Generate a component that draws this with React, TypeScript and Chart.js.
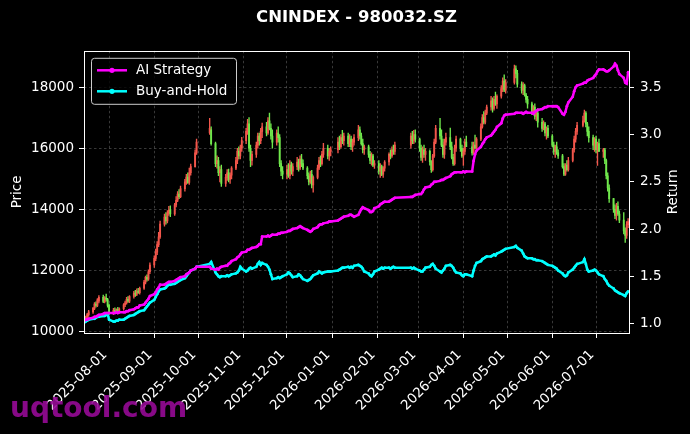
import { useEffect, useRef } from "react";
import { Chart, registerables } from "chart.js";

Chart.register(...registerables);

// ---------- data ----------
const TITLE = "CNINDEX - 980032.SZ";
const FIRST_DAY = "2025-07-15";
const LAST_DAY = "2026-07-23";
const HOLIDAYS = [
  "2025-10-01", "2025-10-02", "2025-10-03", "2025-10-06", "2025-10-07", "2025-10-08",
  "2026-01-01", "2026-01-02",
  "2026-02-16", "2026-02-17", "2026-02-18", "2026-02-19", "2026-02-20", "2026-02-23",
  "2026-04-06", "2026-05-01", "2026-05-04", "2026-05-05", "2026-06-19",
];
const TICK_LABELS = [
  "2025-08-01", "2025-09-01", "2025-10-01", "2025-11-01", "2025-12-01", "2026-01-01",
  "2026-02-01", "2026-03-01", "2026-04-01", "2026-05-01", "2026-06-01", "2026-07-01",
];
const PRICE_TICKS = [10000, 12000, 14000, 16000, 18000];
const RETURN_TICKS = [1.0, 1.5, 2.0, 2.5, 3.0, 3.5];

const OPENS = [
  10300, 10380, 10470, 10560,
  10650, 10760, 10900, 10860, 11000,
  11120, 10980, 11100, 11050,
  10860,
  10620, 10700, 10640, 10720, 10660,
  10750, 10880, 10940, 11060, 11000,
  11150, 11260, 11220, 11330, 11280,
  11420, 11620, 11780, 11720, 11960,
  12180, 12400, 12600, 12850, 13100,
  13520, 13750, 13620, 13880, 13980,
  13850, 14150, 14300, 14500, 14420,
  14680, 14900, 15060, 14880, 15200,
  15400, 15850,
  16500, 16600,
  16150, 15500, 15600, 15200, 15300,
  14850, 15050, 15200, 14980, 15120,
  15350, 15600, 15900, 15750, 16000,
  16250, 16550, 16800, 16000, 15600,
  15800, 16100, 16400, 16250, 16550,
  16700, 16500, 16900, 16650, 16400,
  16200, 16500, 16350, 15500, 15250,
  15150, 15300, 15100, 15450, 15250,
  15400, 15550, 15350, 15650, 15500,
  15350, 15100, 14900, 15150, 14800,
  15050, 15350, 15600, 15500, 15800,
  16000, 15750, 15900,
  15950, 16200, 16050, 16350, 16250,
  16400, 16150, 16300, 16050, 16200,
  16350, 16600, 16400, 16150, 15950,
  16050, 15800, 15600, 15750, 15450,
  15500, 15250, 15400, 15150, 15350,
  15550, 15800, 15750, 15950, 15900,
  16100, 16400, 16250, 16450,
  16300, 16000, 15700, 15950, 15800,
  15900, 15550, 15300, 15750, 16200,
  16650, 16400, 16100, 15800, 16200,
  16350, 16050, 15700, 15500, 16000,
  16300, 16000, 15750, 15900, 16200,
  16050, 15850, 16100, 16000,
  16300, 16700, 17000, 16850, 17150,
  17350, 17550, 17300, 17600, 17450,
  17700, 17950, 18200, 17900,
  18150, 18600, 18450,
  18100, 17900, 18050, 17750, 17600,
  17450, 17200, 17350, 17050, 17150,
  16850, 16650, 16800, 16500, 16650,
  16400, 16100, 15900, 16050, 15850,
  15750, 15400, 15150, 15450, 15300,
  15600, 15950, 16300, 16550,
  16750, 16900, 17150, 16800, 16550,
  16350, 16100, 16300, 15950, 16150,
  15900, 15950, 15600, 15100, 14700,
  14350, 14000, 13800, 14100, 13850,
  13650, 13300, 13150, 13500,
];

const HIGHS = [
  10420, 10510, 10600, 10700,
  10800, 10950, 10980, 11080, 11180,
  11200, 11150, 11230, 11090,
  10900,
  10760, 10780, 10750, 10800, 10780,
  10920, 11000, 11120, 11150, 11180,
  11320, 11350, 11400, 11420, 11460,
  11680, 11820, 11860, 12020, 12250,
  12480, 12700, 12950, 13250, 13620,
  13850, 13900, 13960, 14100, 14120,
  14200, 14420, 14580, 14650, 14760,
  14980, 15150, 15200, 15350, 15480,
  15950, 16300,
  16980, 16700,
  16200, 15750, 15700, 15400, 15450,
  15150, 15300, 15320, 15200, 15400,
  15700, 16000, 16050, 16100, 16360,
  16650, 16950, 17000, 16100, 15900,
  16200, 16500, 16500, 16650, 16820,
  16850, 17000, 17150, 16800, 16600,
  16600, 16700, 16450, 15600, 15400,
  15450, 15500, 15600, 15550, 15500,
  15700, 15650, 15750, 15800, 15620,
  15400, 15200, 15250, 15280, 15100,
  15450, 15700, 15750, 15900, 16160,
  16100, 16000, 16050,
  16350, 16400, 16450, 16590, 16500,
  16500, 16450, 16400, 16300, 16450,
  16750, 16700, 16500, 16300, 16100,
  16100, 15900, 15850, 15800, 15600,
  15600, 15500, 15450, 15400, 15600,
  15850, 15950, 16050, 16100, 16200,
  16500, 16550, 16590, 16600,
  16330, 16100, 16050, 16100, 16000,
  15950, 15600, 15800, 16300, 16750,
  16980, 16600, 16300, 16300, 16500,
  16660, 16200, 15800, 16100, 16400,
  16330, 16100, 16000, 16300, 16400,
  16200, 16200, 16430, 16350,
  16800, 17100, 17200, 17250, 17410,
  17700, 17650, 17700, 17840, 17750,
  18050, 18300, 18400, 18250,
  18720, 18700, 18550,
  18170, 18150, 18100, 17800, 17700,
  17510, 17400, 17450, 17200, 17300,
  16980, 16900, 16850, 16700, 16750,
  16450, 16200, 16100, 16200, 15950,
  15800, 15500, 15500, 15600, 15700,
  16000, 16400, 16650, 16850,
  17050, 17250, 17200, 16850, 16700,
  16430, 16350, 16400, 16200, 16300,
  16000, 16000, 15650, 15200, 14800,
  14360, 14150, 14200, 14250, 13950,
  13900, 13400, 13600, 13700,
];

const LOWS = [
  10260, 10340, 10420, 10500,
  10600, 10720, 10800, 10820, 10940,
  10950, 10940, 11000, 10800,
  10560,
  10560, 10600, 10590, 10640, 10600,
  10700, 10820, 10900, 10960, 10950,
  11100, 11150, 11180, 11250, 11230,
  11380, 11560, 11650, 11680, 11900,
  12100, 12320, 12520, 12780, 13050,
  13450, 13520, 13560, 13800, 13760,
  13800, 14080, 14250, 14350, 14380,
  14600, 14820, 14850, 14820, 15120,
  15380, 15800,
  16450, 16100,
  15400, 15350, 15100, 14900, 14750,
  14750, 14950, 14900, 14850, 15000,
  15300, 15500, 15650, 15650, 15900,
  16150, 16450, 15900, 15400, 15450,
  15700, 16000, 16100, 16150, 16350,
  16400, 16450, 16600, 16300, 16000,
  16100, 16200, 15400, 15100, 15000,
  15000, 15050, 15000, 15150, 15100,
  15300, 15250, 15300, 15400, 15300,
  15000, 14800, 14850, 14700, 14560,
  15000, 15300, 15400, 15450, 15700,
  15650, 15600, 15750,
  15850, 15950, 16000, 16150, 16100,
  16050, 16050, 15950, 15900, 16100,
  16250, 16300, 16100, 15850, 15800,
  15700, 15500, 15450, 15400, 15340,
  15150, 15050, 15100, 15050, 15250,
  15450, 15650, 15700, 15800, 15800,
  16000, 16150, 16150, 16200,
  15900, 15600, 15540, 15700, 15600,
  15450, 15210, 15250, 15700, 16150,
  16300, 16050, 15700, 15670, 16100,
  15950, 15650, 15440, 15450, 15900,
  15900, 15700, 15440, 15800, 16100,
  15770, 15800, 16000, 15900,
  16250, 16660, 16800, 16800, 17100,
  17250, 17180, 17250, 17400, 17300,
  17640, 17850, 17850, 17800,
  18100, 18300, 18000,
  17800, 17750, 17700, 17500, 17310,
  17100, 17150, 16950, 16900, 16690,
  16550, 16600, 16400, 16300, 16350,
  16050, 15800, 15700, 15800, 15670,
  15350, 15100, 15110, 15250, 15250,
  15550, 15870, 16200, 16450,
  16700, 16850, 16700, 16400, 16200,
  15950, 15900, 15850, 15440, 15900,
  15700, 15500, 15000, 14600, 14230,
  13900, 13700, 13650, 13800, 13570,
  13200, 12920, 13050, 13400,
];

const CLOSES = [
  10380, 10470, 10560, 10650,
  10760, 10900, 10860, 11040, 11120,
  10990, 11110, 11060, 10860,
  10620,
  10700, 10640, 10720, 10660, 10750,
  10880, 10940, 11060, 11000, 11150,
  11260, 11220, 11330, 11280, 11420,
  11620, 11780, 11720, 11960, 12180,
  12400, 12600, 12850, 13100, 13520,
  13750, 13620, 13880, 13980, 13850,
  14150, 14300, 14500, 14420, 14680,
  14900, 15060, 14880, 15200, 15400,
  15850, 16200,
  16650, 16150,
  15500, 15600, 15200, 15300, 14850,
  15050, 15200, 14980, 15120, 15350,
  15600, 15900, 15750, 16000, 16250,
  16550, 16800, 16000, 15600, 15800,
  16100, 16400, 16250, 16550, 16700,
  16500, 16900, 16650, 16400, 16200,
  16500, 16350, 15500, 15250, 15150,
  15300, 15100, 15450, 15250, 15400,
  15550, 15350, 15650, 15500, 15350,
  15100, 14900, 15150, 14800, 15050,
  15350, 15600, 15500, 15800, 16000,
  15750, 15900, 15950,
  16200, 16050, 16350, 16250, 16400,
  16150, 16300, 16050, 16200, 16350,
  16600, 16400, 16150, 15950, 16050,
  15800, 15600, 15750, 15450, 15500,
  15250, 15400, 15150, 15350, 15550,
  15800, 15750, 15950, 15900, 16100,
  16400, 16250, 16450, 16300,
  16000, 15700, 15950, 15800, 15900,
  15550, 15300, 15750, 16200, 16650,
  16400, 16100, 15800, 16200, 16350,
  16050, 15700, 15500, 16000, 16300,
  16000, 15750, 15900, 16200, 16050,
  15850, 16100, 16000, 16300,
  16700, 17000, 16850, 17150, 17350,
  17550, 17300, 17600, 17450, 17700,
  17950, 18200, 17900, 18150,
  18600, 18450, 18100,
  17900, 18050, 17750, 17600, 17450,
  17200, 17350, 17050, 17150, 16850,
  16650, 16800, 16500, 16650, 16400,
  16100, 15900, 16050, 15850, 15750,
  15400, 15150, 15450, 15300, 15600,
  15950, 16300, 16550, 16750,
  16900, 17150, 16800, 16550, 16350,
  16100, 16300, 15950, 16150, 15900,
  15950, 15600, 15100, 14700, 14350,
  14000, 13800, 14100, 13850, 13650,
  13300, 13150, 13500, 13600,
];

const AI_STRATEGY = [
  1.03, 1.04, 1.04, 1.05,
  1.06, 1.07, 1.07, 1.08, 1.09,
  1.10, 1.11, 1.11, 1.11,
  1.11,
  1.11, 1.11, 1.12, 1.11, 1.12,
  1.12, 1.12, 1.13, 1.13, 1.14,
  1.15, 1.16, 1.17, 1.17, 1.19,
  1.20, 1.22, 1.24, 1.26, 1.29,
  1.31, 1.33, 1.36, 1.38, 1.41,
  1.41, 1.42, 1.43, 1.44, 1.44,
  1.45, 1.46, 1.47, 1.48, 1.49,
  1.50, 1.52, 1.53, 1.54, 1.56,
  1.58, 1.60,
  1.60, 1.58,
  1.57, 1.58, 1.57, 1.59, 1.60,
  1.61, 1.61, 1.63, 1.64, 1.66,
  1.68, 1.70, 1.71, 1.73, 1.75,
  1.76, 1.78, 1.78, 1.79, 1.80,
  1.81, 1.82, 1.84, 1.84, 1.92,
  1.92, 1.93, 1.92, 1.93, 1.94,
  1.94, 1.95, 1.95, 1.96, 1.96,
  1.97, 1.98, 1.98, 1.99, 2.00,
  2.01, 2.02, 2.03, 2.02, 2.01,
  1.99, 1.98, 1.97, 1.98, 2.00,
  2.02, 2.04, 2.05, 2.05, 2.06,
  2.07, 2.08, 2.08,
  2.09, 2.10, 2.11, 2.12, 2.13,
  2.14, 2.15, 2.15, 2.14, 2.13,
  2.15, 2.18, 2.21, 2.23, 2.22,
  2.20, 2.18, 2.18, 2.19, 2.22,
  2.24, 2.26, 2.27, 2.28, 2.29,
  2.29, 2.30, 2.31, 2.32, 2.33,
  2.34, 2.34, 2.35, 2.36,
  2.37, 2.37, 2.39, 2.42, 2.44,
  2.45, 2.47, 2.48, 2.50, 2.50,
  2.51, 2.52, 2.52, 2.53, 2.54,
  2.56, 2.58, 2.59, 2.60, 2.60,
  2.60, 2.60, 2.61, 2.60, 2.61,
  2.61, 2.72, 2.79, 2.83,
  2.87, 2.90, 2.92, 2.95, 2.97,
  2.99, 3.01, 3.03, 3.05, 3.08,
  3.12, 3.17, 3.20, 3.21,
  3.22, 3.23, 3.23,
  3.23, 3.22, 3.23, 3.24, 3.23,
  3.23, 3.22, 3.24, 3.25, 3.26,
  3.27, 3.28, 3.29, 3.29, 3.30,
  3.30, 3.30, 3.30, 3.30, 3.29,
  3.22, 3.21, 3.24, 3.30, 3.34,
  3.40, 3.46, 3.50, 3.52,
  3.54, 3.55, 3.55, 3.57, 3.58,
  3.60, 3.62, 3.64, 3.67, 3.69,
  3.69, 3.68, 3.67, 3.67, 3.68,
  3.72, 3.75, 3.73, 3.68, 3.64,
  3.60, 3.55, 3.54, 3.66,
];

const BUY_AND_HOLD = [
  1.01, 1.02, 1.03, 1.04,
  1.05, 1.05, 1.06, 1.07, 1.07,
  1.08, 1.08, 1.09, 1.10,
  1.04,
  1.02, 1.02, 1.03, 1.03, 1.04,
  1.04, 1.05, 1.06, 1.07, 1.08,
  1.09, 1.10, 1.11, 1.12, 1.13,
  1.14, 1.16, 1.18, 1.20, 1.22,
  1.25, 1.28, 1.31, 1.34, 1.36,
  1.37, 1.38, 1.40, 1.41, 1.41,
  1.42, 1.43, 1.44, 1.45, 1.46,
  1.48, 1.50, 1.52, 1.54, 1.56,
  1.58, 1.60,
  1.63, 1.65,
  1.54, 1.52, 1.50, 1.49, 1.50,
  1.50, 1.51, 1.50, 1.51, 1.52,
  1.53, 1.54, 1.56, 1.60, 1.58,
  1.55, 1.56, 1.58, 1.59, 1.58,
  1.60, 1.63, 1.65, 1.62, 1.64,
  1.62, 1.60, 1.57, 1.52, 1.47,
  1.48, 1.49, 1.48, 1.49, 1.50,
  1.52, 1.54, 1.53, 1.51, 1.49,
  1.50, 1.52, 1.51, 1.49, 1.47,
  1.45, 1.46, 1.47, 1.49, 1.51,
  1.53, 1.55, 1.54, 1.53, 1.54,
  1.55, 1.55, 1.55,
  1.56, 1.57, 1.58, 1.59, 1.59,
  1.60, 1.59, 1.60, 1.59, 1.61,
  1.62, 1.61, 1.60, 1.58, 1.55,
  1.53, 1.51, 1.50, 1.52, 1.55,
  1.57, 1.58, 1.59, 1.58, 1.59,
  1.59, 1.58, 1.59, 1.60, 1.59,
  1.59, 1.58, 1.59, 1.58,
  1.56, 1.55, 1.55, 1.57, 1.59,
  1.60, 1.62, 1.63, 1.61, 1.58,
  1.55, 1.54, 1.56, 1.58, 1.61,
  1.62, 1.61, 1.59, 1.56, 1.54,
  1.53, 1.51, 1.50, 1.52, 1.52,
  1.50, 1.56, 1.61, 1.64,
  1.66, 1.68, 1.69, 1.70, 1.71,
  1.71, 1.72, 1.73, 1.72, 1.74,
  1.76, 1.77, 1.78, 1.79,
  1.81, 1.82, 1.80,
  1.77, 1.74, 1.71, 1.70, 1.69,
  1.69, 1.68, 1.68, 1.67, 1.67,
  1.66, 1.65, 1.64, 1.63, 1.62,
  1.61, 1.60, 1.59, 1.58, 1.56,
  1.53, 1.51, 1.50, 1.51, 1.54,
  1.57, 1.59, 1.61, 1.63,
  1.65, 1.68, 1.63, 1.57, 1.55,
  1.56, 1.57, 1.56, 1.54, 1.52,
  1.50, 1.47, 1.45, 1.42, 1.40,
  1.37, 1.35, 1.34, 1.33, 1.32,
  1.30, 1.29, 1.32, 1.34,
];

// ---------- helpers ----------
const FONT = "'DejaVu Sans', 'Liberation Sans', sans-serif";
const UP = "#f2564b";
const DOWN = "#70e84c";
const MAGENTA = "#ff00ff";
const CYAN = "#00ffff";

const dayNum = (s: string) => {
  const [y, m, d] = s.split("-").map(Number);
  return Date.UTC(y, m - 1, d) / 86400000;
};

const tradingDays = (): number[] => {
  const out: number[] = [];
  const hol = new Set(HOLIDAYS.map(dayNum));
  const a = dayNum(FIRST_DAY);
  const b = dayNum(LAST_DAY);
  for (let d = a; d <= b; d++) {
    const wd = new Date(d * 86400000).getUTCDay();
    if (wd === 0 || wd === 6 || hol.has(d)) continue;
    out.push(d);
  }
  return out;
};

const legendPlugin = {
  id: "mplLegend",
  afterDatasetsDraw(chart: any) {
    const { ctx, chartArea } = chart;
    const x0 = chartArea.left + 7;
    const y0 = chartArea.top + 7;
    const w = 145;
    const h = 46;
    ctx.save();
    ctx.beginPath();
    ctx.roundRect(x0 + 0.5, y0 + 0.5, w, h, 3);
    ctx.fillStyle = "rgba(0,0,0,0.8)";
    ctx.fill();
    ctx.strokeStyle = "#cccccc";
    ctx.lineWidth = 1;
    ctx.stroke();
    const items = [
      { label: "AI Strategy", color: MAGENTA, y: y0 + 12.5 },
      { label: "Buy-and-Hold", color: CYAN, y: y0 + 33.5 },
    ];
    for (const it of items) {
      ctx.strokeStyle = it.color;
      ctx.lineWidth = 2.5;
      ctx.beginPath();
      ctx.moveTo(x0 + 6, it.y);
      ctx.lineTo(x0 + 36, it.y);
      ctx.stroke();
      ctx.fillStyle = it.color;
      ctx.beginPath();
      ctx.arc(x0 + 21, it.y, 2.6, 0, Math.PI * 2);
      ctx.fill();
      ctx.fillStyle = "#ffffff";
      ctx.font = `13.5px ${FONT}`;
      ctx.textBaseline = "middle";
      ctx.textAlign = "left";
      ctx.fillText(it.label, x0 + 45, it.y + 0.5);
    }
    ctx.restore();
  },
};

const framePlugin = {
  id: "frame",
  beforeDraw(chart: any) {
    const { ctx, width, height } = chart;
    ctx.save();
    ctx.fillStyle = "#000000";
    ctx.fillRect(0, 0, width, height);
    ctx.restore();
  },
  afterDatasetsDraw(chart: any) {
    const { ctx, chartArea } = chart;
    ctx.save();
    ctx.strokeStyle = "#ffffff";
    ctx.lineWidth = 1;
    ctx.strokeRect(
      Math.round(chartArea.left) + 0.5,
      Math.round(chartArea.top) + 0.5,
      Math.round(chartArea.right - chartArea.left),
      Math.round(chartArea.bottom - chartArea.top)
    );
    ctx.restore();
  },
  afterDraw(chart: any) {
    const { ctx, chartArea } = chart;
    ctx.save();
    // right axis title, reading bottom-to-top like matplotlib
    ctx.translate(673, (chartArea.top + chartArea.bottom) / 2);
    ctx.rotate(-Math.PI / 2);
    ctx.font = `13.5px ${FONT}`;
    ctx.fillStyle = "#ffffff";
    ctx.textAlign = "center";
    ctx.textBaseline = "middle";
    ctx.fillText("Return", 0, 0);
    ctx.restore();

    ctx.save();
    ctx.font = `bold 28px ${FONT}`;
    ctx.fillStyle = "rgba(150, 10, 150, 0.9)";
    ctx.textBaseline = "alphabetic";
    ctx.textAlign = "left";
    ctx.fillText("uqtool.com", 10, 417);
    ctx.restore();
  },
};

export default function App() {
  const ref = useRef<HTMLCanvasElement>(null);

  useEffect(() => {
    if (!ref.current) return;
    const days = tradingDays();
    const n = Math.min(days.length, OPENS.length, HIGHS.length, LOWS.length, CLOSES.length);
    const colors = Array.from({ length: n }, (_, i) => (CLOSES[i] >= OPENS[i] ? UP : DOWN));
    const wicks = Array.from({ length: n }, (_, i) => ({ x: days[i], y: [LOWS[i], HIGHS[i]] }));
    const bodies = Array.from({ length: n }, (_, i) => ({ x: days[i], y: [OPENS[i], CLOSES[i]] }));
    const nAi = Math.min(days.length, AI_STRATEGY.length);
    const nBh = Math.min(days.length, BUY_AND_HOLD.length);
    const ai = Array.from({ length: nAi }, (_, i) => ({ x: days[i], y: AI_STRATEGY[i] }));
    const bh = Array.from({ length: nBh }, (_, i) => ({ x: days[i], y: BUY_AND_HOLD[i] }));
    const tickVals = TICK_LABELS.map(dayNum);
    const tickMap = new Map(TICK_LABELS.map((l) => [dayNum(l), l]));

    const gridCommon = {
      color: "rgba(255,255,255,0.28)",
      lineWidth: 0.8,
      tickLength: 5,
      tickColor: "#ffffff",
      tickWidth: 1,
      tickBorderDash: [],
      offset: false,
    };

    const chart = new Chart(ref.current, {
      type: "bar",
      data: {
        datasets: [
          {
            type: "line",
            label: "AI Strategy",
            data: ai,
            yAxisID: "y1",
            borderColor: MAGENTA,
            backgroundColor: MAGENTA,
            borderWidth: 2.5,
            pointRadius: 1.4,
            pointBorderWidth: 0,
            tension: 0,
            order: 0,
          } as any,
          {
            type: "line",
            label: "Buy-and-Hold",
            data: bh,
            yAxisID: "y1",
            borderColor: CYAN,
            backgroundColor: CYAN,
            borderWidth: 2.5,
            pointRadius: 1.4,
            pointBorderWidth: 0,
            tension: 0,
            order: 1,
          } as any,
          {
            type: "bar",
            label: "body",
            data: bodies,
            yAxisID: "y",
            backgroundColor: colors,
            borderWidth: 0,
            barThickness: 1.2,
            grouped: false,
            order: 2,
          } as any,
          {
            type: "bar",
            label: "wick",
            data: wicks,
            yAxisID: "y",
            backgroundColor: colors,
            borderWidth: 0,
            barThickness: 0.7,
            grouped: false,
            order: 3,
          } as any,
        ],
      },
      options: {
        animation: false,
        responsive: true,
        maintainAspectRatio: false,
        layout: { padding: 0 },
        font: { family: FONT },
        plugins: {
          legend: { display: false },
          tooltip: { enabled: false },
          title: {
            display: true,
            text: TITLE,
            color: "#ffffff",
            fullSize: false,
            font: { family: FONT, size: 16.5, weight: "bold" },
            padding: { top: 8, bottom: 23 },
          },
        },
        scales: {
          x: {
            type: "linear",
            min: dayNum(FIRST_DAY) - 0.2,
            max: dayNum(LAST_DAY) + 0.6,
            offset: false,
            afterBuildTicks: (s: any) => {
              s.ticks = tickVals.map((v) => ({ value: v }));
            },
            afterFit: (s: any) => {
              s.height = 101;
            },
            ticks: {
              autoSkip: false,
              maxRotation: 45,
              minRotation: 45,
              color: "#ffffff",
              padding: 9,
              labelOffset: -4,
              font: { family: FONT, size: 13.5 },
              callback: (v: any) => tickMap.get(Number(v)) ?? "",
            },
            grid: gridCommon,
            border: { display: false, dash: [2.5, 2.5] },
          },
          y: {
            type: "linear",
            position: "left",
            min: 9957,
            max: 19188,
            afterBuildTicks: (s: any) => {
              s.ticks = PRICE_TICKS.map((v) => ({ value: v }));
            },
            afterFit: (s: any) => {
              s.width = 84;
            },
            ticks: {
              color: "#ffffff",
              padding: 5,
              font: { family: FONT, size: 13.5 },
              callback: (v: any) => String(v),
            },
            title: {
              display: true,
              text: "Price",
              color: "#ffffff",
              font: { family: FONT, size: 13.5 },
              padding: { top: 9, bottom: 0 },
            },
            grid: gridCommon,
            border: { display: false, dash: [2.5, 2.5] },
          },
          y1: {
            type: "linear",
            position: "right",
            min: 0.899,
            max: 3.887,
            afterBuildTicks: (s: any) => {
              s.ticks = RETURN_TICKS.map((v) => ({ value: v }));
            },
            afterFit: (s: any) => {
              s.width = 61;
            },
            ticks: {
              color: "#ffffff",
              padding: 6,
              font: { family: FONT, size: 13.5 },
              callback: (v: any) => Number(v).toFixed(1),
            },
            title: { display: false },
            grid: { ...gridCommon, drawOnChartArea: false },
            border: { display: false },
          },
        },
      } as any,
      plugins: [framePlugin, legendPlugin],
    });
    return () => chart.destroy();
  }, []);

  return (
    <div
      style={{
        position: "fixed",
        left: 0,
        top: 0,
        width: 690,
        height: 434,
        background: "#000000",
      }}
    >
      <canvas ref={ref} />
    </div>
  );
}
